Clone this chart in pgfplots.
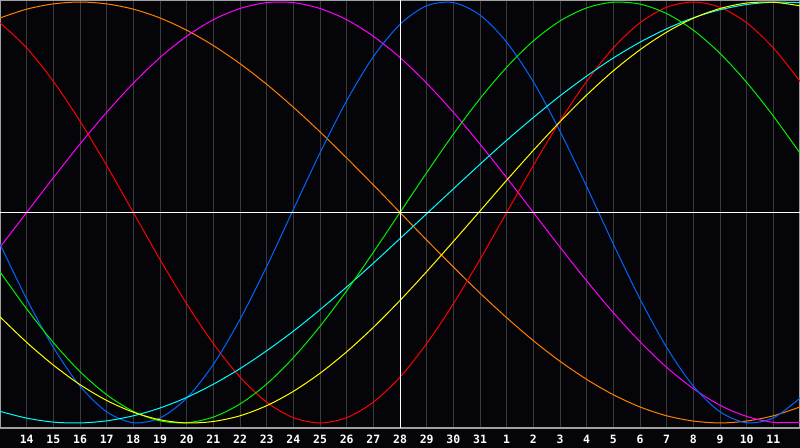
\documentclass[border=0pt]{standalone}
\usepackage{pgfplots}
\usepackage{pgfplotstable}
\pgfplotsset{compat=1.18}
\usepackage{fontspec}
\setmonofont{DejaVu Sans Mono}
\definecolor{bg}{RGB}{5,4,8}
\definecolor{gridc}{RGB}{58,58,58}
\definecolor{borderc}{RGB}{160,160,160}
\definecolor{cred}{RGB}{255,0,0}
\definecolor{cblue}{RGB}{0,102,255}
\definecolor{cgreen}{RGB}{0,240,0}
\definecolor{cmag}{RGB}{255,0,255}
\definecolor{cyel}{RGB}{255,255,0}
\definecolor{corange}{RGB}{255,128,0}
\definecolor{ccyan}{RGB}{0,255,255}
\pgfplotstableread{
t r b g m y o c
0 0.901 -0.150 -0.282 -0.165 -0.496 0.924 -0.945
1 0.782 -0.411 -0.458 0.000 -0.617 0.966 -0.977
2 0.623 -0.641 -0.618 0.165 -0.725 0.991 -0.996
3 0.434 -0.825 -0.756 0.325 -0.818 1.000 -1.000
4 0.223 -0.947 -0.866 0.476 -0.893 0.991 -0.990
5 0.000 -0.999 -0.945 0.614 -0.949 0.966 -0.966
6 -0.223 -0.976 -0.990 0.736 -0.985 0.924 -0.929
7 -0.434 -0.882 -0.999 0.837 -1.000 0.866 -0.879
8 -0.623 -0.722 -0.972 0.916 -0.993 0.793 -0.816
9 -0.782 -0.508 -0.910 0.969 -0.966 0.707 -0.742
10 -0.901 -0.257 -0.815 0.997 -0.918 0.609 -0.657
11 -0.975 0.014 -0.690 0.997 -0.850 0.500 -0.564
12 -1.000 0.283 -0.541 0.969 -0.764 0.383 -0.462
13 -0.975 0.531 -0.372 0.916 -0.662 0.259 -0.354
14 -0.901 0.740 -0.189 0.837 -0.546 0.131 -0.241
15 -0.782 0.894 0.000 0.736 -0.418 0.000 -0.124
16 -0.623 0.982 0.189 0.614 -0.281 -0.131 -0.006
17 -0.434 0.997 0.372 0.476 -0.138 -0.259 0.112
18 -0.223 0.938 0.541 0.325 0.007 -0.383 0.229
19 0.000 0.809 0.690 0.165 0.153 -0.500 0.343
20 0.223 0.621 0.815 0.000 0.295 -0.609 0.451
21 0.434 0.386 0.910 -0.165 0.431 -0.707 0.554
22 0.623 0.123 0.972 -0.325 0.558 -0.793 0.648
23 0.782 -0.150 0.999 -0.476 0.673 -0.866 0.734
24 0.901 -0.411 0.990 -0.614 0.773 -0.924 0.809
25 0.975 -0.641 0.945 -0.736 0.857 -0.966 0.873
26 1.000 -0.825 0.866 -0.837 0.923 -0.991 0.925
27 0.975 -0.947 0.756 -0.916 0.969 -1.000 0.963
28 0.901 -0.999 0.618 -0.969 0.995 -0.991 0.988
29 0.782 -0.976 0.458 -0.997 0.999 -0.966 0.999
30 0.623 -0.882 0.282 -0.997 0.982 -0.924 0.997
}\bio
\begin{document}
\begin{tikzpicture}
\fill[bg] (0,0) rectangle (800bp,448bp);
\begin{axis}[
  at={(0,20bp)}, anchor=south west,
  scale only axis, width=800bp, height=428bp,
  xmin=0, xmax=30, ymin=-1.024, ymax=1.0095,
  xtick={1,...,29},
  xticklabels={14,15,16,17,18,19,20,21,22,23,24,25,26,27,28,29,30,31,1,2,3,4,5,6,7,8,9,10,11},
  ytick=\empty,
  major tick length=0pt,
  xmajorgrids,
  major grid style={draw=gridc, line width=1bp},
  axis line style={draw=borderc, line width=2bp},
  xticklabel style={font=\ttfamily\bfseries\fontsize{11.5}{11.5}\selectfont, text=white, anchor=base, inner sep=0pt, yshift=-15bp},
  every axis plot/.append style={smooth, line width=1bp, mark=none},
]
\addplot[corange] table[x=t, y=o] {\bio};
\addplot[cmag] table[x=t, y=m] {\bio};
\addplot[cred] table[x=t, y=r] {\bio};
\addplot[cblue] table[x=t, y=b] {\bio};
\addplot[ccyan] table[x=t, y=c] {\bio};
\addplot[cgreen] table[x=t, y=g] {\bio};
\addplot[cyel] table[x=t, y=y] {\bio};
\draw[white, line width=1bp] (axis cs:0,0) -- (axis cs:30,0);
\draw[white, line width=1bp] (axis cs:15,-1.1) -- (axis cs:15,1.1);
\end{axis}
\pgfresetboundingbox
\path[use as bounding box] (0,0) rectangle (800bp,448bp);
\end{tikzpicture}
\end{document}
